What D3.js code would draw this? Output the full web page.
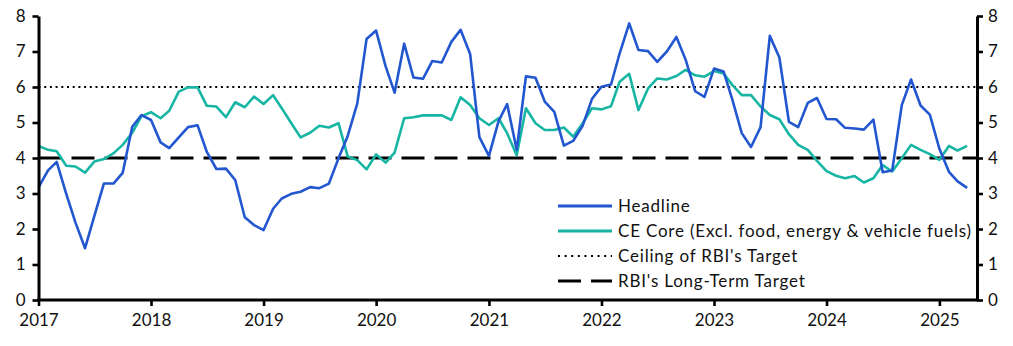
<!DOCTYPE html>
<html><head><meta charset="utf-8">
<script src="https://cdn.jsdelivr.net/npm/d3@7"></script>
<style>
body{margin:0;background:#fff}
text{font-family:Lato,'Noto Sans',sans-serif;fill:#111}
</style>
</head><body>
<svg id="c" width="1013" height="346"></svg>
<script>
// ---- data ----
const startMonth = "2017-01";
const headline = [
 3.17,3.65,3.89,2.99,2.18,1.46,2.36,3.28,3.28,3.58,4.88,5.21,
 5.07,4.44,4.28,4.58,4.87,4.92,4.17,3.69,3.70,3.38,2.33,2.11,
 1.97,2.57,2.86,2.99,3.05,3.18,3.15,3.28,3.99,4.62,5.54,7.35,
 7.59,6.58,5.84,7.22,6.27,6.23,6.73,6.69,7.27,7.61,6.93,4.59,
 4.06,5.03,5.52,4.23,6.30,6.26,5.59,5.30,4.35,4.48,4.91,5.66,
 6.01,6.07,6.95,7.79,7.04,7.01,6.71,7.00,7.41,6.77,5.88,5.72,
 6.52,6.44,5.66,4.70,4.31,4.87,7.44,6.83,5.02,4.87,5.55,5.69,
 5.10,5.09,4.85,4.83,4.80,5.08,3.60,3.65,5.49,6.21,5.48,5.22,
 4.26,3.61,3.34,3.16];
const core = [
 4.34,4.23,4.19,3.78,3.76,3.59,3.90,3.97,4.13,4.37,4.71,5.18,
 5.29,5.12,5.33,5.87,5.99,5.99,5.47,5.45,5.15,5.57,5.43,5.73,
 5.52,5.77,5.40,4.98,4.58,4.71,4.91,4.86,4.98,4.04,3.94,3.68,
 4.10,3.87,4.15,5.12,5.15,5.20,5.20,5.20,5.07,5.71,5.49,5.12,
 4.93,5.12,4.70,4.08,5.40,4.98,4.79,4.79,4.86,4.60,4.98,5.40,
 5.37,5.46,6.15,6.37,5.35,5.96,6.24,6.21,6.31,6.48,6.33,6.29,
 6.45,6.38,6.06,5.77,5.77,5.45,5.21,5.09,4.67,4.37,4.23,3.92,
 3.63,3.50,3.43,3.49,3.31,3.43,3.80,3.62,3.99,4.37,4.23,4.11,
 3.95,4.34,4.21,4.34];
const ceilingValue = 6;
const targetValue = 4;
const yTicks = [0,1,2,3,4,5,6,7,8];
const xTickYears = [2017,2018,2019,2020,2021,2022,2023,2024,2025];
const seriesNames = ["Headline","CE Core (Excl. food, energy & vehicle fuels)","Ceiling of RBI's Target","RBI's Long-Term Target"];

// ---- build ----
const parse = d3.timeParse("%Y-%m");
const t0 = parse(startMonth);
const dates = headline.map((_,i)=>d3.timeMonth.offset(t0,i));

const svg = d3.select("#c");
const L = 38.5, R = 977, T = 16, B = 300;
const FS = 17;
const x = d3.scaleTime().domain([t0, new Date(2025,4,3)]).range([L,R]);
const y = d3.scaleLinear().domain([0,8]).range([B,T]);

const C_HEAD = "#2257cf", C_CORE = "#17b6a4";

// reference lines
svg.append("line").attr("x1",L).attr("x2",R).attr("y1",y(ceilingValue)).attr("y2",y(ceilingValue))
  .attr("stroke","#000").attr("stroke-width",2).attr("stroke-dasharray","2,3.7");
svg.append("line").attr("x1",L).attr("x2",R).attr("y1",y(targetValue)).attr("y2",y(targetValue))
  .attr("stroke","#000").attr("stroke-width",3.2).attr("stroke-dasharray","23,10");

const line = d3.line().x((d,i)=>x(dates[i])).y(d=>y(d));
svg.append("path").datum(core).attr("d",line).attr("fill","none")
  .attr("stroke",C_CORE).attr("stroke-width",2.6).attr("stroke-linejoin","round");
svg.append("path").datum(headline).attr("d",line).attr("fill","none")
  .attr("stroke",C_HEAD).attr("stroke-width",2.6).attr("stroke-linejoin","round");

// axes
function styleAxis(g){
  g.selectAll("path.domain").attr("stroke","#000").attr("stroke-width",3);
  g.selectAll(".tick line").attr("stroke","#000").attr("stroke-width",2.6);
  g.selectAll("text").attr("font-size",FS).attr("fill","#111").attr("font-family","Lato, 'Noto Sans', sans-serif");
}
const gl = svg.append("g").attr("transform",`translate(${L},0)`)
  .call(d3.axisLeft(y).tickValues(yTicks).tickFormat(d3.format("d")).tickSize(6).tickSizeOuter(0).tickPadding(7));
styleAxis(gl);
const gr = svg.append("g").attr("transform",`translate(${R},0)`)
  .call(d3.axisRight(y).tickValues(yTicks).tickFormat(d3.format("d")).tickSize(6).tickSizeOuter(0).tickPadding(5));
styleAxis(gr);
const gb = svg.append("g").attr("transform",`translate(0,${B})`)
  .call(d3.axisBottom(x).tickValues(xTickYears.map(yr=>new Date(yr,0,1))).tickFormat(d3.timeFormat("%Y")).tickSize(6).tickSizeOuter(0).tickPadding(8));
styleAxis(gb);
gb.select("path.domain").attr("d",`M${L-1.5},0H${R+1.5}`);

// legend
const lx = 558, ly = 206, ls = 25;
const styles = [
  {stroke:C_HEAD, w:2.8, dash:null},
  {stroke:C_CORE, w:2.8, dash:null},
  {stroke:"#000", w:2, dash:"2,4.6"},
  {stroke:"#000", w:3.2, dash:"23,10"}
];
seriesNames.forEach((n,i)=>{
  const g = svg.append("g").attr("transform",`translate(${lx},${ly+i*ls})`);
  g.append("line").attr("x1",0).attr("x2",54).attr("y1",0).attr("y2",0)
    .attr("stroke",styles[i].stroke).attr("stroke-width",styles[i].w)
    .attr("stroke-dasharray",styles[i].dash);
  g.append("text").attr("x",60).attr("y",0).attr("dy","0.35em").attr("font-size",FS)
    .attr("letter-spacing","0.8px").text(n);
});
</script>
</body></html>
